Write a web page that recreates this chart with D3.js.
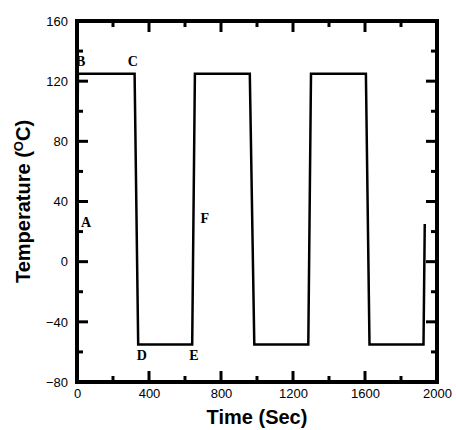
<!DOCTYPE html>
<html><head><meta charset="utf-8">
<script src="https://cdn.jsdelivr.net/npm/d3@7"></script>
<style>body{margin:0;background:#fff}</style></head>
<body><div id="chart"></div>
<script>
// trace points: time (s), temperature (C)
const times = [0, 5, 320, 340, 640, 655, 960, 985, 1285, 1300, 1605, 1625, 1925, 1932];
const temps = [25, 125, 125, -55, -55, 125, 125, -55, -55, 125, 125, -55, -55, 25];
const xTicks = [0, 400, 800, 1200, 1600, 2000];
const yTicks = [-80, -40, 0, 40, 80, 120, 160];
const pointLabels = ["A", "B", "C", "D", "E", "F"];
const labelTimes = [50, 20, 310, 360, 650, 710];
const labelTemps = [25, 132, 132, -63, -63, 28];

const width = 456, height = 430;
const m = {left: 77, right: 19, top: 21, bottom: 48};

const x = d3.scaleLinear().domain([0, 2000]).range([m.left, width - m.right]);
const y = d3.scaleLinear().domain([-80, 160]).range([height - m.bottom, m.top]);

const svg = d3.select("#chart").append("svg")
  .attr("width", width).attr("height", height);

const minorX = d3.range(0, 2001, 200), minorY = d3.range(-80, 161, 20);
const tk = svg.append("g").attr("stroke", "#000").attr("stroke-width", 3);

// inward ticks on all four sides
minorX.forEach(d => {
  const L = xTicks.includes(d) ? 11 : 6;
  tk.append("line").attr("x1", x(d)).attr("x2", x(d)).attr("y1", y(-80)).attr("y2", y(-80) - L);
  tk.append("line").attr("x1", x(d)).attr("x2", x(d)).attr("y1", y(160)).attr("y2", y(160) + L);
});
minorY.forEach(d => {
  const L = yTicks.includes(d) ? 11 : 6;
  tk.append("line").attr("y1", y(d)).attr("y2", y(d)).attr("x1", x(0)).attr("x2", x(0) + L);
  tk.append("line").attr("y1", y(d)).attr("y2", y(d)).attr("x1", x(2000)).attr("x2", x(2000) - L);
});
svg.append("rect").attr("x", x(0)).attr("y", y(160))
  .attr("width", x(2000) - x(0)).attr("height", y(-80) - y(160))
  .attr("fill", "none").attr("stroke", "#000").attr("stroke-width", 4);

// tick labels via axes (lines hidden)
const gx = svg.append("g").attr("transform", `translate(0,${y(-80) + 4})`)
  .call(d3.axisBottom(x).tickValues(xTicks).tickSize(0).tickFormat(d3.format("d")));
const gy = svg.append("g").attr("transform", `translate(${x(0) - 6},0)`)
  .call(d3.axisLeft(y).tickValues(yTicks).tickSize(0).tickFormat(d3.format("d")));
[gx, gy].forEach(g => {
  g.select(".domain").remove();
  g.selectAll("text").attr("font-family", "Arial, Liberation Sans, sans-serif")
    .attr("font-size", 13).attr("fill", "#000");
});

// trace
const pts = times.map((t, i) => [t, temps[i]]);
svg.append("path").datum(pts)
  .attr("fill", "none").attr("stroke", "#000").attr("stroke-width", 2.5)
  .attr("d", d3.line().x(d => x(d[0])).y(d => y(d[1])));

// point labels
svg.selectAll(".pl").data(pointLabels).enter().append("text")
  .attr("x", (d, i) => x(labelTimes[i]))
  .attr("y", (d, i) => y(labelTemps[i]))
  .attr("font-family", "Liberation Serif, Times New Roman, serif")
  .attr("font-weight", "bold").attr("font-size", 14)
  .attr("text-anchor", "middle").attr("dominant-baseline", "middle")
  .text(d => d);

// axis titles
svg.append("text").attr("x", (m.left + width - m.right) / 2).attr("y", 424)
  .attr("text-anchor", "middle").attr("font-family", "Arial, Liberation Sans, sans-serif")
  .attr("font-weight", "bold").attr("font-size", 20).text("Time (Sec)");
const yt = svg.append("text")
  .attr("transform", `translate(30,${(m.top + height - m.bottom) / 2}) rotate(-90)`)
  .attr("text-anchor", "middle").attr("font-family", "Arial, Liberation Sans, sans-serif")
  .attr("font-weight", "bold").attr("font-size", 20);
yt.append("tspan").text("Temperature (");
yt.append("tspan").attr("font-size", 13).attr("dy", -7).text("O");
yt.append("tspan").attr("dy", 7).text("C)");
</script></body></html>
